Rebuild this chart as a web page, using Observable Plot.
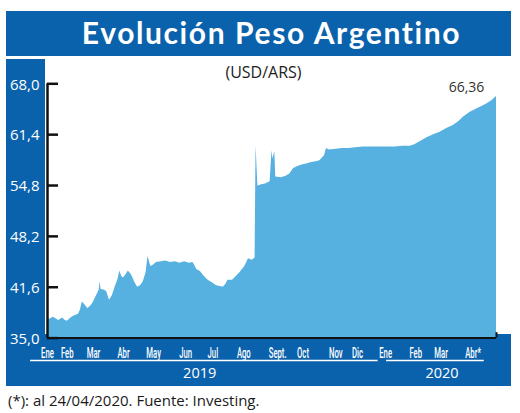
<!DOCTYPE html>
<html><head><meta charset="utf-8">
<script src="https://cdn.jsdelivr.net/npm/d3@7"></script>
<script src="https://cdn.jsdelivr.net/npm/@observablehq/plot@0.6"></script>
<style>
html,body{margin:0;padding:0;background:#fff;}
#wrap{position:relative;width:520px;height:413px;overflow:hidden;font-family:"Open Sans",sans-serif;}
#title{position:absolute;left:6px;top:11px;width:505px;height:45px;background:#0b62ac;color:#fff;font-family:Lato,sans-serif;font-weight:700;font-size:30px;line-height:43px;text-align:center;padding-left:26px;box-sizing:border-box;letter-spacing:1.6px;}
#bgBlue{position:absolute;left:6px;top:59px;width:505px;height:327px;background:#0b62ac;}
#bgWhite{position:absolute;left:45px;top:59px;width:475px;height:275px;background:#fff;}
#chart{position:absolute;left:0;top:56px;}
#caption{position:absolute;left:8px;top:390px;font-size:15px;line-height:20px;color:#1a1a1a;white-space:nowrap;}
</style></head><body>
<div id="wrap">
<div id="title"></div>
<div id="bgBlue"></div><div id="bgWhite"></div>
<div id="chart"></div>
<div id="caption"></div>
</div>
<script>
const titleText = "Evolución Peso Argentino";
const subtitleText = "(USD/ARS)";
const captionText = "(*): al 24/04/2020. Fuente: Investing.";
const lastLabel = ["66,36"];

const dates = [
"2019-01-02","2019-01-04","2019-01-08","2019-01-11","2019-01-14","2019-01-18","2019-01-21","2019-01-23","2019-01-28","2019-01-31",
"2019-02-04","2019-02-06","2019-02-08","2019-02-11","2019-02-14","2019-02-18","2019-02-20","2019-02-22","2019-02-26","2019-02-27","2019-02-28",
"2019-03-04","2019-03-06","2019-03-09","2019-03-12","2019-03-15","2019-03-18","2019-03-20","2019-03-22","2019-03-24","2019-03-27","2019-03-29",
"2019-04-01","2019-04-03","2019-04-05","2019-04-08","2019-04-11","2019-04-14","2019-04-17","2019-04-19","2019-04-22","2019-04-25","2019-04-28",
"2019-05-03","2019-05-08","2019-05-13","2019-05-18","2019-05-23","2019-05-28","2019-06-02","2019-06-06","2019-06-10","2019-06-14","2019-06-18","2019-06-22","2019-06-26",
"2019-07-01","2019-07-05","2019-07-08","2019-07-11","2019-07-13","2019-07-18","2019-07-22","2019-07-26","2019-07-31",
"2019-08-04","2019-08-08","2019-08-11","2019-08-12","2019-08-14","2019-08-18","2019-08-22","2019-08-27","2019-08-29","2019-08-30","2019-09-01","2019-09-02",
"2019-09-08","2019-09-13","2019-09-17","2019-09-21","2019-09-26","2019-10-01","2019-10-05","2019-10-10","2019-10-15","2019-10-19","2019-10-24","2019-10-26","2019-10-29",
"2019-11-05","2019-11-12","2019-11-19","2019-11-26","2019-12-04","2019-12-12","2019-12-20","2019-12-28",
"2020-01-07","2020-01-15","2020-01-23","2020-01-28","2020-02-03","2020-02-10","2020-02-17","2020-02-24","2020-03-02","2020-03-09","2020-03-15","2020-03-20","2020-03-27",
"2020-04-04","2020-04-09","2020-04-14","2020-04-19","2020-04-24"
];
const values = [
37.6,37.4,37.7,37.5,37.3,37.6,37.3,37.2,37.7,37.9,
38.1,38.6,39.7,39.3,38.8,39.3,39.7,40.2,41.2,42.3,41.3,
41.2,41.0,39.9,40.5,41.6,42.6,43.7,43.0,42.8,43.3,43.7,
43.3,42.8,42.2,41.6,41.8,42.3,43.5,45.6,44.3,44.5,44.8,
44.9,45.0,44.8,44.9,44.7,44.9,44.7,44.8,43.9,43.6,43.0,42.5,42.2,
41.8,41.7,41.6,42.0,42.5,42.5,43.0,43.5,44.3,
45.3,45.1,45.4,60.0,54.7,54.9,55.0,55.3,59.3,58.2,59.2,55.9,
55.8,56.0,56.3,57.0,57.3,57.5,57.6,57.8,57.9,58.0,58.7,59.6,59.4,
59.5,59.6,59.6,59.7,59.8,59.8,59.8,59.8,
59.8,59.9,59.9,60.1,60.5,61.0,61.4,61.7,62.2,62.6,63.1,63.7,64.3,
64.8,65.1,65.4,65.8,66.36
];
const yTicks = [35, 41.6, 48.2, 54.8, 61.4, 68];
const monthLabels = ["Ene","Feb","Mar","Abr","May","Jun","Jul","Ago","Sept.","Oct","Nov","Dic","Ene","Feb","Mar","Abr*"];
const monthDates = ["2019-01-02","2019-01-23","2019-02-20","2019-03-24","2019-04-25","2019-05-29","2019-06-27","2019-07-30","2019-09-04","2019-10-01","2019-11-05","2019-11-28","2019-12-28","2020-01-29","2020-02-25","2020-03-30"];
const yearLabels = ["2019","2020"];
const yearCenters = ["2019-06-13","2020-02-26"];
const yearStarts = ["2018-12-15","2019-12-29"];
const yearEnds = ["2019-12-20","2020-04-11"];

const AREA = "#56b1e1";
const INK = "#111";

document.getElementById("title").textContent = titleText;
document.getElementById("caption").textContent = captionText;

const parse = d3.utcParse("%Y-%m-%d");
const series = dates.map((d, i) => ({date: parse(d), value: values[i]}));
const xStart = series[0].date, xEnd = series[series.length - 1].date;
const months = monthLabels.map((label, i) => ({label, date: parse(monthDates[i])}));
const years = yearLabels.map((label, i) => ({label, center: parse(yearCenters[i]), start: parse(yearStarts[i]), end: parse(yearEnds[i])}));
const yBase = yTicks[0], yTop = yTicks[yTicks.length - 1];
const fmt = d => d.toFixed(1).replace(".", ",");
const last = [series[series.length - 1]];

const chart = Plot.plot({
  width: 520, height: 334,
  marginLeft: 47, marginRight: 24, marginTop: 27.3, marginBottom: 52.4,
  style: {background: "transparent", fontFamily: "'Open Sans', sans-serif", overflow: "visible"},
  x: {type: "utc", domain: [xStart, xEnd], axis: null},
  y: {domain: [yBase, yTop], axis: null},
  marks: [
    Plot.areaY(series, {x: "date", y1: yBase, y2: "value", fill: AREA}),
    Plot.ruleY([yBase], {x1: xStart, x2: xEnd, stroke: INK, strokeWidth: 2}),
    Plot.ruleX([xStart], {y1: yBase, y2: yTop, stroke: INK, strokeWidth: 2.5}),
    Plot.ruleX([xEnd], {y1: yBase, y2: yBase + 0.7, stroke: INK, strokeWidth: 2}),
    Plot.axisY(yTicks, {tickSize: 11, dx: 11, fill: "none", stroke: INK, strokeWidth: 2.5, label: null}),
    Plot.text(yTicks, {y: d => d, frameAnchor: "left", text: fmt, textAnchor: "end", dx: -8, dy: 1, fill: "white", fontSize: 15}),
    Plot.text([subtitleText], {frameAnchor: "top", text: d => d, lineAnchor: "middle", dx: -8.5, dy: -11, fill: "#222", fontSize: 16}),
    Plot.text(last, {x: "date", y: "value", text: () => lastLabel[0], dx: -30, dy: -9, fill: "#333", fontSize: 14}),
    Plot.text(months, {x: "date", y: () => yBase, text: "label", dy: 14.5, fill: "white", fontSize: 15.5,
      fontWeight: 500, fontFamily: "Roboto, sans-serif"}),
    Plot.ruleY(years, {y: () => yBase, x1: "start", x2: "end", dy: 22.5, stroke: "white", strokeWidth: 1.5}),
    Plot.text(years, {x: "center", y: () => yBase, text: "label", dy: 35.5, fill: "white", fontSize: 14.5})
  ]
});
document.getElementById("chart").appendChild(chart);

// condense month labels horizontally to match the narrow typeface of the reference
const mtexts = Array.from(chart.querySelectorAll("text")).filter(t => monthLabels.includes(t.textContent));
if (mtexts.length) {
  let w0 = 0;
  try { w0 = mtexts[0].getBBox().width; } catch (e) {}
  const factor = w0 > 0 ? Math.min(0.8, 12.8 / w0) : 0.55;
  mtexts.forEach(t => {
    const tr = t.getAttribute("transform");
    if (tr) {
      t.setAttribute("transform", tr + ` scale(${factor},1)`);
    } else {
      const x = t.getAttribute("x") || 0, y = t.getAttribute("y") || 0;
      t.setAttribute("x", 0); t.setAttribute("y", 0);
      t.setAttribute("transform", `translate(${x},${y}) scale(${factor},1)`);
    }
  });
}
</script>
</body></html>
